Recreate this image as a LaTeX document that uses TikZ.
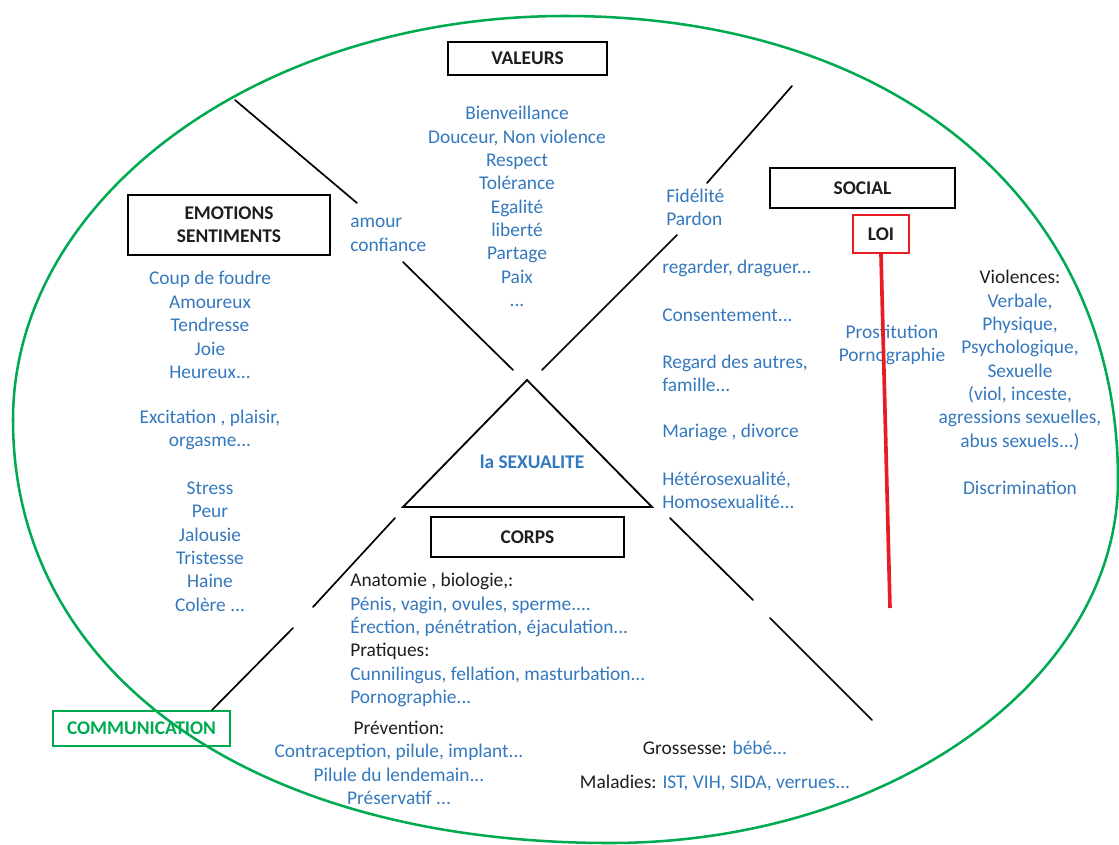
\documentclass[tikz,border=0pt]{standalone}
\usepackage{fontspec}
\setmainfont{Carlito}
\usetikzlibrary{calc}

\definecolor{txtblue}{RGB}{52,120,190}
\definecolor{txtdark}{RGB}{30,30,30}
\definecolor{ovalgreen}{RGB}{0,170,80}
\definecolor{loired}{RGB}{232,28,36}

\begin{document}
\begin{tikzpicture}[
    x=0.025cm, y=-0.025cm,
    font=\fontsize{13.8}{16.6}\selectfont,
    catbox/.style={draw, line width=1.5pt, font=\fontsize{13.8}{16.6}\selectfont\bfseries, text=txtdark, align=center, inner sep=0pt},
    items/.style={text=txtblue, inner sep=0pt},
    split/.style={line width=1.2pt, line cap=round}
]
    \useasboundingbox (0,0) rectangle (1119,844);

    % --- Outer oval ---
    \coordinate (ovL) at (13,420);
    \coordinate (ovT) at (565,16);
    \coordinate (ovR) at (1118,480);
    \coordinate (ovB) at (610,843);
    \draw[ovalgreen, line width=1.8pt] (ovL) .. controls (13,197) and (260,16) .. (ovT)
        .. controls (897,16) and (1118,202) .. (ovR)
        .. controls (1118,680) and (890,843) .. (ovB)
        .. controls (252,843) and (13,674) .. cycle;

    % --- Category boxes ---
    \node[catbox, minimum width=3.975cm, minimum height=0.825cm] (val) at (527.5,58.5) {VALEURS};
    \node[catbox, minimum width=5.05cm, minimum height=1.5cm] (emo) at (229,225) {EMOTIONS\\SENTIMENTS};
    \node[catbox, minimum width=4.625cm, minimum height=1.0cm] (soc) at (862.5,188) {SOCIAL};
    \node[catbox, draw=loired, minimum width=1.4cm, minimum height=0.95cm] (loi) at (881,234) {LOI};
    \node[catbox, minimum width=4.825cm, minimum height=1.0cm] (corps) at (527.5,537) {CORPS};
    \node[catbox, draw=ovalgreen, text=ovalgreen, minimum width=4.425cm, minimum height=0.875cm] (comm) at (141.5,728.5) {COMMUNICATION};

    % --- Centre triangle ---
    \coordinate (apex) at (527,380);
    \coordinate (baseL) at (403,507);
    \coordinate (baseR) at (652,507);
    \draw[line width=1.3pt, line join=miter] (apex) -- (baseL) -- (baseR) -- cycle;
    \node[items, font=\fontsize{13.8}{16.6}\selectfont\bfseries] (sex) at (532,462) {la SEXUALITE};

    % --- Dividing lines (each cut by a label) ---
    \coordinate (ulA) at (235,100); \coordinate (ulB) at (357,203);
    \coordinate (ulC) at (403,262); \coordinate (ulD) at (513,370);
    \coordinate (urA) at (792,86);  \coordinate (urB) at (707,183);
    \coordinate (urC) at (677,235); \coordinate (urD) at (542,370);
    \coordinate (llA) at (395,518); \coordinate (llB) at (313,607);
    \coordinate (llC) at (293,628); \coordinate (llD) at (212,710);
    \coordinate (lrA) at (670,518); \coordinate (lrB) at (753,600);
    \coordinate (lrC) at (770,618); \coordinate (lrD) at (872,720);
    \draw[split] (ulA) -- (ulB);
    \draw[split] (ulC) -- (ulD);
    \draw[split] (urA) -- (urB);
    \draw[split] (urC) -- (urD);
    \draw[split] (llA) -- (llB);
    \draw[split] (llC) -- (llD);
    \draw[split] (lrA) -- (lrB);
    \draw[split] (lrC) -- (lrD);

    % --- Valeurs ---
    \node[items, align=center] (vallist) at (517,206.5) {Bienveillance\\Douceur, Non violence\\Respect\\Tol\'erance\\Egalit\'e\\libert\'e\\Partage\\Paix\\...};
    \node[items, align=left, anchor=west] (amour) at (350,235) {amour\\confiance};
    \node[items, align=left, anchor=west] (fidel) at (666,207) {Fid\'elit\'e\\Pardon};

    % --- Emotions ---
    \node[items, align=center] (emoA) at (210,325) {Coup de foudre\\Amoureux\\Tendresse\\Joie\\Heureux...};
    \node[items, align=center] (emoB) at (210,430) {Excitation , plaisir,\\orgasme...};
    \node[items, align=center] (emoC) at (210,546.5) {Stress\\Peur\\Jalousie\\Tristesse\\Haine\\Col\`ere ...};

    % --- Social ---
    \node[items, anchor=west] (soc1) at (662,268) {regarder, draguer...};
    \node[items, anchor=west] (soc2) at (662,315) {Consentement...};
    \node[items, anchor=west, align=left] (soc3) at (662,373.5) {Regard des autres,\\famille...};
    \node[items, anchor=west] (soc4) at (662,432) {Mariage , divorce};
    \node[items, anchor=west, align=left] (soc5) at (662,490) {H\'et\'erosexualit\'e,\\Homosexualit\'e...};
    \node[items, align=center] (prost) at (892,345) {Prostitution\\Pornographie};
    \node[items, align=center] (viol) at (1020,360) {\textcolor{txtdark}{Violences:}\\Verbale,\\Physique,\\Psychologique,\\Sexuelle\\(viol, inceste,\\agressions sexuelles,\\abus sexuels...)};
    \node[items] (discr) at (1020,488) {Discrimination};

    % --- Law line ---
    \coordinate (loiEnd) at (890,608);
    \draw[loired, line width=2.6pt] (loi.south) -- (loiEnd);

    % --- Corps ---
    \node[items, anchor=west, align=left] (corpslist) at (350,640) {\textcolor{txtdark}{Anatomie , biologie,:}\\P\'enis, vagin, ovules, sperme....\\\'Erection, p\'en\'etration, \'ejaculation...\\\textcolor{txtdark}{Pratiques:}\\Cunnilingus, fellation, masturbation...\\Pornographie...};
    \node[items, align=center] (prev) at (399,763) {\textcolor{txtdark}{Pr\'evention:}\\Contraception, pilule, implant...\\Pilule du lendemain...\\Pr\'eservatif ...};
    \node[items] (gross) at (715,748) {\textcolor{txtdark}{Grossesse:} b\'eb\'e...};
    \node[items] (malad) at (715,783) {\textcolor{txtdark}{Maladies:} IST, VIH, SIDA, verrues...};

\end{tikzpicture}
\end{document}
